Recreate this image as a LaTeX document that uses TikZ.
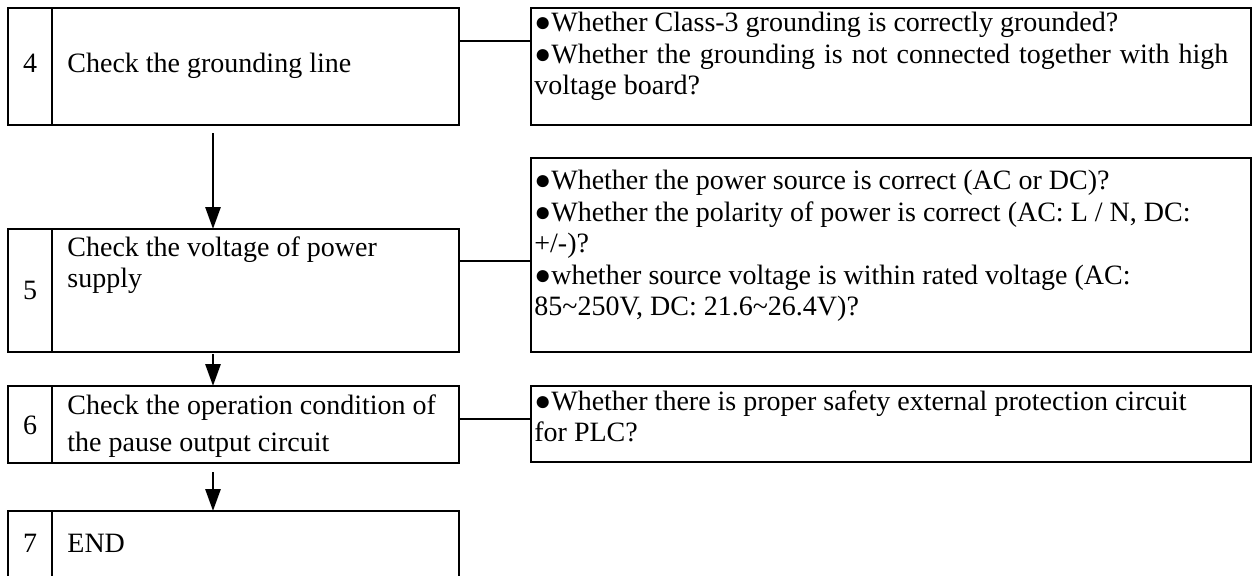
\documentclass[tikz,border=0pt]{standalone}
\usepackage{fontspec}
\setmainfont{Liberation Serif}
\usetikzlibrary{positioning, arrows.meta, calc}

\begin{document}
\begin{tikzpicture}[
	x=0.5pt, y=-0.5pt,
	font=\fontsize{14}{15.75}\selectfont,
	box/.style={draw, line width=1pt, inner sep=0pt, outer sep=0pt, anchor=north west},
	numbox/.style={box, minimum width=22pt},
	stepbox/.style={box, minimum width=203.5pt},
	notebox/.style={box, minimum width=360pt},
	txt/.style={anchor=north west, align=left, inner sep=0pt},
	numtxt/.style={inner sep=0pt},
	link/.style={line width=1pt},
	flow/.style={line width=1.4pt, -{Triangle[length=11pt, width=7.5pt]}}
	]
	\useasboundingbox (0,0) rectangle (1256,575);
	\clip (0,0) rectangle (1256,575);
	
	% Steps
	\node[numbox, minimum height=58.5pt] (n4) at (8,8) {};
	\node[stepbox, minimum height=58.5pt] (s4) at (n4.north east) {};
	\node[numbox, minimum height=61.5pt] (n5) at (8,229) {};
	\node[stepbox, minimum height=61.5pt] (s5) at (n5.north east) {};
	\node[numbox, minimum height=38.5pt] (n6) at (8,386) {};
	\node[stepbox, minimum height=38.5pt] (s6) at (n6.north east) {};
	\node[numbox, minimum height=40pt] (n7) at (8,511) {};
	\node[stepbox, minimum height=40pt] (s7) at (n7.north east) {};
	
	% Check notes
	\node[notebox, minimum height=58.5pt] (c4) at (531,8) {};
	\node[notebox, minimum height=97pt] (c5) at (531,158) {};
	\node[notebox, minimum height=38pt] (c6) at (531,386) {};
	
	% Numbers
	\node[numtxt] (t4num) at ($(n4.north)+(0,55)$) {4};
	\node[numtxt] (t5num) at ($(n5.north)+(0,61)$) {5};
	\node[numtxt] (t6num) at ($(n6.north)+(0,39)$) {6};
	\node[numtxt] (t7num) at ($(n7.north)+(0,32)$) {7};
	
	% Step texts
	\node[txt] (t4) at ($(s4.north west)+(15,45)$) {Check the grounding line};
	\node[txt] (t5) at ($(s5.north west)+(15,7)$) {Check the voltage of power\\supply};
	\node[txt, font=\fontsize{14}{18.5}\selectfont] (t6) at ($(s6.north west)+(15,8)$)
	{Check the operation condition of\\the pause output circuit};
	\node[txt] (t7) at ($(s7.north west)+(15,23)$) {END};
	
	% Note texts
	\node[txt] (k4) at ($(c4.north west)+(3,4)$)
	{●Whether Class-3 grounding is correctly grounded?\\\makebox[347pt][s]{●Whether the grounding is not connected together with high}\\voltage board?};
	\node[txt] (k5) at ($(c5.north west)+(3,12)$)
	{●Whether the power source is correct (AC or DC)?\\●Whether the polarity of power is correct (AC: L / N, DC:\\+/-)?\\●whether source voltage is within rated voltage (AC:\\85\textasciitilde250V, DC: 21.6\textasciitilde26.4V)?};
	\node[txt] (k6) at ($(c6.north west)+(3,4)$)
	{●Whether there is proper safety external protection circuit\\for PLC?};
	
	% Links to notes
	\coordinate (l4) at (0,41);
	\coordinate (l5) at (0,261);
	\coordinate (l6) at (0,419);
	\draw[link] (s4.east |- l4) -- (c4.west |- l4);
	\draw[link] (s5.east |- l5) -- (c5.west |- l5);
	\draw[link] (s6.east |- l6) -- (c6.west |- l6);
	
	% Flow arrows
	\coordinate (ax) at (213,0);
	\draw[flow] ($(s4.south -| ax)+(0,8)$) -- (s5.north -| ax);
	\draw[flow] ($(s5.south -| ax)+(0,2)$) -- (s6.north -| ax);
	\draw[flow] ($(s6.south -| ax)+(0,9)$) -- (s7.north -| ax);
	
\end{tikzpicture}
\end{document}
